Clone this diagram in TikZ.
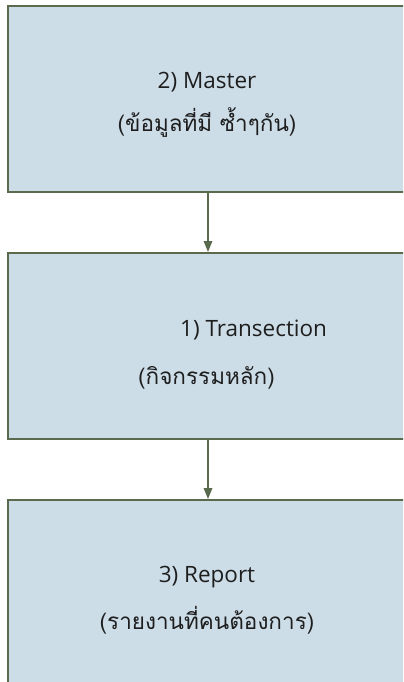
\documentclass[tikz,border=0pt]{standalone}
\usepackage{fontspec}
\setmainfont{Open Sans}
\newfontfamily\thaifont[Script=Thai]{Loma}
\usetikzlibrary{arrows.meta}
\definecolor{boxfill}{RGB}{204,221,232}
\definecolor{boxline}{RGB}{90,106,76}
\definecolor{txt}{RGB}{30,30,30}
\tikzset{
  flowbox/.style={draw=boxline, fill=boxfill, line width=2bp, minimum width=402bp, inner sep=0pt, anchor=north west},
  lbl/.style={text=txt, font=\fontsize{22.5bp}{26bp}\selectfont, inner sep=0pt},
  thlbl/.style={text=txt, font=\thaifont\fontsize{22.5bp}{26bp}\selectfont, inner sep=0pt},
  link/.style={draw=boxline, line width=1.6bp, -{Triangle[width=8.5bp,length=11bp]}}
}
\begin{document}
\begin{tikzpicture}[x=1bp,y=-1bp]
\useasboundingbox (0,0) rectangle (403,682);
\clip (0,0) rectangle (403,682);
\node[flowbox, minimum height=186bp] (b1) at (7,5) {};
\node[flowbox, minimum height=186bp] (b2) at (7,252) {};
\node[flowbox, minimum height=200bp] (b3) at (7,499) {};
\node[lbl] (t1) at (207,82) {2) Master};
\node[thlbl] (h1) at (207,123) {(ข้อมูลที่มี ซ้ำๆกัน)};
\node[lbl, anchor=west] (t2) at (180,330) {1) Transection};
\node[thlbl, anchor=west] (h2) at (138,378) {(กิจกรรมหลัก)};
\node[lbl] (t3) at (207,577) {3) Report};
\node[thlbl] (h3) at (207,620) {(รายงานที่คนต้องการ)};
\draw[link] (b1.south -| t1) ++(1,0) coordinate (a1s) -- (a1s |- b2.north);
\draw[link] (b2.south -| t1) ++(1,0) coordinate (a2s) -- (a2s |- b3.north);
\end{tikzpicture}
\end{document}
